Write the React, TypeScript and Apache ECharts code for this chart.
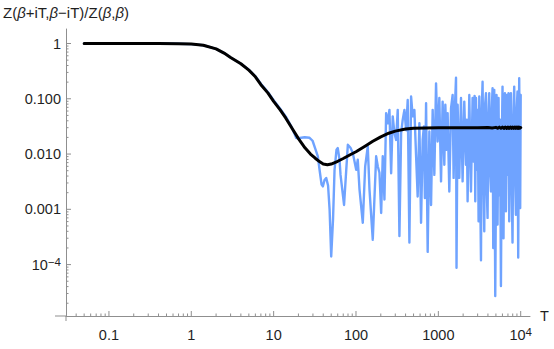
import React, { useEffect, useRef } from "react";
import * as echarts from "echarts";

// ---- axis ranges ----
const X_MIN = 0.0301;
const X_MAX = 12970;
const Y_MIN = 1.175e-5;
const Y_MAX = 1.83;

// ---- tick labels ----
const xLabelExps = [-1, 0, 1, 2, 3, 4];
const xLabelTexts = ["{b|0.1}", "{b|1}", "{b|10}", "{b|100}", "{b|1000}", "{b|10}{s|4}"];
const yLabelExps = [0, -1, -2, -3, -4];
const yLabelTexts = ["{b|1}", "{b|0.100}", "{b|0.010}", "{b|0.001}", "{b|10}{s|\u22124}"];

const xMajorTicks = [0.1, 1, 10, 100, 1000, 10000];
const yMajorTicks = [1, 0.1, 0.01, 0.001, 0.0001];
const tickDecadesX = [-2, -1, 0, 1, 2, 3, 4];
const tickDecadesY = [-5, -4, -3, -2, -1, 0];
const minorMultipliers = [2, 3, 4, 5, 6, 7, 8, 9];

// ---- black curve ----
const blackT = [
  0.05, 0.1, 0.2, 0.4, 0.7, 1.0, 1.4, 2.0, 2.5, 3.0, 4.0, 5.0, 6.0, 7.0, 8.5, 10, 12, 14, 17, 20,
  24, 28, 32, 36, 40, 45, 50, 60, 70, 85, 100, 130, 160, 200, 250, 300, 400, 500, 700, 1000,
  2000, 3000, 4000, 4500, 5000, 5250, 5500, 5750, 6000, 6250, 6500, 6750, 7000, 7250, 7500, 7750,
  8000, 8250, 8500, 8750, 9000, 9250, 9500, 9750, 10000,
];
const blackV = [
  1.0, 1.0, 1.0, 0.998, 0.99, 0.975, 0.93, 0.8, 0.67, 0.56, 0.43, 0.33, 0.25, 0.18, 0.128, 0.09, 0.063, 0.045, 0.028, 0.019,
  0.013, 0.01, 0.0084, 0.0073, 0.0066, 0.0064, 0.0066, 0.0074, 0.0083, 0.0097, 0.011, 0.014, 0.017, 0.0205, 0.0238, 0.026, 0.0283, 0.0293, 0.0297, 0.0298,
  0.0298, 0.0299, 0.0302, 0.0296, 0.0304, 0.0293, 0.0307, 0.0292, 0.0308, 0.0291, 0.0309, 0.0292, 0.0308, 0.0291, 0.0309, 0.0292,
  0.0308, 0.0291, 0.0309, 0.0292, 0.0308, 0.0291, 0.0309, 0.0293, 0.0301,
];

// ---- blue curve ----
const blueT = [
  0.05, 0.1, 0.2, 0.4, 0.7, 1.0, 1.4, 2.0, 2.5, 3.0, 4.0, 5.0, 6.0, 7.0, 8.5, 10, 12, 14, 16.5,
  18.8, 20.6, 23.8, 27.3, 29.7, 32.3, 34.4, 36.1, 38.2, 39.6, 41.5, 43.5, 45.8, 47.8, 50.0, 52.6, 54.9, 58.0, 60.1, 63.1,
  64.9, 71.6, 79.6, 85.7, 91.4, 100.6, 105.1, 110.3, 120.9, 129.3, 139.0, 145.8, 159.8, 175.7, 183.8, 192.7, 202.1, 211.3, 221.5, 232.3,
  243.0, 254.7, 267.2, 279.3, 292.9, 306.9, 321.2, 336.8, 353.2, 369.3, 387.3, 406.0, 424.6, 445.1, 466.7, 488.1, 511.7, 536.7, 561.0, 588.4,
  616.6, 645.2, 667.2, 686.2, 709.6, 741.9, 778.0, 815.6, 853.1, 894.3, 937.6, 980.6, 1028, 1078, 1127, 1182, 1216, 1261, 1296, 1359,
  1426, 1491, 1533, 1585, 1639, 1662, 1714, 1797, 1884, 1970, 2065, 2166, 2215, 2266, 2376, 2491, 2605, 2694, 2754, 2808,
  2864, 2953, 3012, 3080, 3141, 3212, 3294, 3368, 3444, 3531, 3611, 3693, 3787, 3871, 3959, 4059, 4151, 4246, 4354, 4452,
  4552, 4642, 4773, 4909, 5089, 5234, 5382, 5488, 5612, 5754, 5884, 6016, 6186, 6310, 6435, 6617, 6803, 6918, 7113, 7254,
  7418, 7606, 7778, 7954, 8155, 8340, 8528, 8746, 8944, 9146, 9326, 9590, 9860, 10000,
];
const blueV = [
  1.0, 1.0, 1.0, 0.998, 0.99, 0.975, 0.93, 0.8, 0.67, 0.56, 0.43, 0.335, 0.255, 0.187, 0.133, 0.094, 0.066, 0.048, 0.031,
  0.0195, 0.0195, 0.0201, 0.0197, 0.0174, 0.012, 0.0091, 0.0052, 0.0028, 0.0026, 0.0034, 0.0037, 0.0027, 0.00099, 0.00014, 0.00065, 0.0052, 0.012, 0.0128, 0.0079,
  0.0042, 0.0012, 0.0147, 0.013, 0.0105, 0.0052, 0.0079, 0.0023, 0.00057, 0.006, 0.0137, 0.0023, 0.00028, 0.0091, 0.006, 0.0046, 0.00086, 0.0091, 0.0015, 0.055,
  0.036, 0.063, 0.0045, 0.048, 0.024, 0.018, 0.063, 0.00033, 0.024, 0.042, 0.063, 0.027, 0.095, 0.00025, 0.11, 0.048, 0.063, 0.0091, 0.0017, 0.036,
  0.00057, 0.018, 0.0315, 0.0016, 0.083, 0.00017, 0.0256, 0.0012, 0.063, 0.0042, 0.19, 0.0169, 0.103, 0.0032, 0.089, 0.0064, 0.078, 0.012, 0.055, 0.0021,
  0.068, 0.117, 0.0037, 0.063, 0.24, 0.0000875, 0.078, 0.0037, 0.103, 0.0032, 0.089, 0.0064, 0.042, 0.0014, 0.117, 0.0021, 0.103, 0.0073, 0.113, 0.0014,
  0.103, 0.0052, 0.063, 0.00061, 0.11, 0.0034, 0.00012, 0.063, 0.204, 0.0042, 0.0004, 0.078, 0.126, 0.0023, 0.0007, 0.051, 0.126, 0.0052, 0.0021, 0.063,
  0.155, 0.0002, 0.145, 0.000027, 0.117, 0.00053, 0.103, 0.0018, 0.042, 0.000041, 0.012, 0.166, 0.0003, 0.063, 0.126, 0.00092, 0.117, 0.0042, 0.126, 0.00061,
  0.027, 0.126, 0.0028, 0.00025, 0.042, 0.166, 0.0052, 0.0008, 0.063, 0.135, 0.000134, 0.235, 0.00106, 0.117,
];

const AXIS = "#8f8f8f";
const LABEL = "#1f1f1f";
const FONT = "'Liberation Sans', Arial, sans-serif";
const BLUE = "#6fa3ff";

function expOf(v: number): number | null {
  const e = Math.log10(v);
  const k = Math.round(e);
  return Math.abs(e - k) < 1e-6 ? k : null;
}

function buildTicks() {
  const data: number[][] = [];
  xMajorTicks.forEach((v) => data.push([v, Y_MIN, 0]));
  tickDecadesX.forEach((k) =>
    minorMultipliers.forEach((m) => {
      const v = m * Math.pow(10, k);
      if (v > X_MIN && v < X_MAX) data.push([v, Y_MIN, 1]);
    })
  );
  yMajorTicks.forEach((v) => data.push([X_MIN, v, 2]));
  tickDecadesY.forEach((k) =>
    minorMultipliers.forEach((m) => {
      const v = m * Math.pow(10, k);
      if (v > Y_MIN && v < Y_MAX) data.push([X_MIN, v, 3]);
    })
  );
  return data;
}

const richStyles = {
  b: { fontSize: 14.5, lineHeight: 18, color: LABEL, fontFamily: FONT },
  s: { fontSize: 11.5, lineHeight: 12, verticalAlign: "top", color: LABEL, fontFamily: FONT },
};

export default function App() {
  const ref = useRef<HTMLDivElement>(null);

  useEffect(() => {
    if (!ref.current) return;
    const chart = echarts.init(ref.current, null, { renderer: "svg" });

    const blueData = blueT.map((t, i) => [t, blueV[i]]);
    const blackData = blackT.map((t, i) => [t, blackV[i]]);

    const option: any = {
      animation: false,
      textStyle: { fontFamily: FONT },
      grid: { left: 66, right: 24, top: 29, bottom: 33 },
      xAxis: {
        type: "log",
        logBase: 10,
        min: X_MIN,
        max: X_MAX,
        name: "T",
        nameLocation: "end",
        nameGap: 10,
        nameTextStyle: { fontSize: 14.5, color: LABEL, fontFamily: FONT, verticalAlign: "middle" },
        axisLine: { show: true, onZero: false, lineStyle: { color: AXIS, width: 1 } },
        axisTick: { show: false },
        minorTick: { show: false },
        splitLine: { show: false },
        axisLabel: {
          margin: 10,
          showMinLabel: false,
          showMaxLabel: false,
          formatter: (v: number) => {
            const k = expOf(v);
            const i = k === null ? -1 : xLabelExps.indexOf(k);
            return i < 0 ? "" : xLabelTexts[i];
          },
          rich: richStyles,
        },
      },
      yAxis: {
        type: "log",
        logBase: 10,
        min: Y_MIN,
        max: Y_MAX,
        name: "Z({i|\u03b2}+iT,{i|\u03b2}\u2212iT)/Z({i|\u03b2},{i|\u03b2})",
        nameLocation: "end",
        nameGap: 9,
        nameTextStyle: {
          fontSize: 15,
          color: LABEL,
          fontFamily: FONT,
          rich: { i: { fontSize: 15, fontStyle: "italic", color: LABEL, fontFamily: FONT } },
        },
        axisLine: { show: true, onZero: false, lineStyle: { color: AXIS, width: 1 } },
        axisTick: { show: false },
        minorTick: { show: false },
        splitLine: { show: false },
        axisLabel: {
          margin: 5,
          showMinLabel: false,
          showMaxLabel: false,
          formatter: (v: number) => {
            const k = expOf(v);
            const i = k === null ? -1 : yLabelExps.indexOf(k);
            return i < 0 ? "" : yLabelTexts[i];
          },
          rich: richStyles,
        },
      },
      graphic: [
        { type: "line", shape: { x1: 55, y1: 316, x2: 66, y2: 316 }, style: { stroke: AXIS, lineWidth: 1 }, silent: true },
        { type: "line", shape: { x1: 66, y1: 316, x2: 66, y2: 321 }, style: { stroke: AXIS, lineWidth: 1 }, silent: true },
      ],
      series: [
        {
          type: "custom",
          coordinateSystem: "cartesian2d",
          silent: true,
          clip: false,
          z: 1,
          encode: { x: 0, y: 1 },
          data: buildTicks(),
          renderItem: (_params: any, api: any) => {
            const kind = api.value(2);
            const p = api.coord([api.value(0), api.value(1)]);
            const len = kind % 2 === 0 ? 5 : 2.5;
            const horiz = kind >= 2;
            return {
              type: "line",
              shape: horiz
                ? { x1: p[0], y1: p[1], x2: p[0] + len, y2: p[1] }
                : { x1: p[0], y1: p[1], x2: p[0], y2: p[1] - len },
              style: { stroke: AXIS, lineWidth: 1 },
            };
          },
        },
        {
          type: "line",
          data: blueData,
          showSymbol: false,
          symbol: "none",
          silent: true,
          z: 2,
          lineStyle: { color: BLUE, width: 2.4, join: "round", cap: "round" },
        },
        {
          type: "line",
          data: blackData,
          showSymbol: false,
          symbol: "none",
          silent: true,
          z: 3,
          lineStyle: { color: "#000000", width: 3, join: "round", cap: "round" },
        },
      ],
    };

    chart.setOption(option);
    return () => chart.dispose();
  }, []);

  return (
    <div
      ref={ref}
      style={{ position: "absolute", left: 0, top: 0, width: 554, height: 349, background: "#ffffff" }}
    />
  );
}
